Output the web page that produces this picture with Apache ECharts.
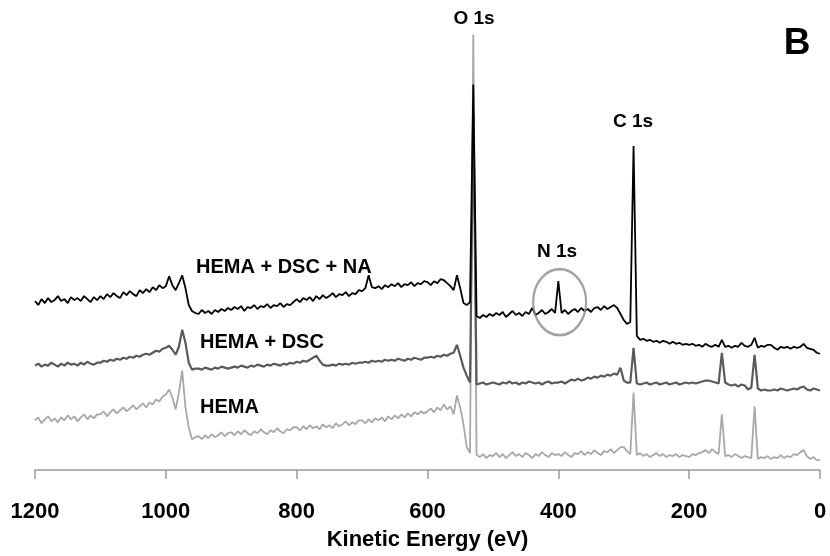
<!DOCTYPE html>
<html>
<head>
<meta charset="utf-8">
<script src="https://cdn.jsdelivr.net/npm/echarts@6/dist/echarts.min.js"></script>
<style>html,body{margin:0;padding:0;background:#fff}#chart{width:830px;height:556px}</style>
</head>
<body>
<div id="chart"></div>
<script>
// Kinetic energy grid (eV)
const energies = [
1200,1195,1190,1185,1180,1175,1170,1165,1160,1155,1150,1145,1140,1135,1130,1125,1120,1115,1110,1105,
1100,1095,1090,1085,1080,1075,1070,1065,1060,1055,1050,1045,1040,1035,1030,1025,1020,1015,1010,1005,
1000,995,990,985,980,975,970,965,960,955,950,945,940,935,930,925,920,915,910,905,
900,895,890,885,880,875,870,865,860,855,850,845,840,835,830,825,820,815,810,805,
800,795,790,785,780,775,770,765,760,755,750,745,740,735,730,725,720,715,710,705,
700,695,690,685,680,675,670,665,660,655,650,645,640,635,630,625,620,615,610,605,
600,595,590,585,580,575,570,565,560,555,550,545,540,535,530,525,520,515,510,505,
500,495,490,485,480,475,470,465,460,455,450,445,440,435,430,425,420,415,410,405,
400,395,390,385,380,375,370,365,360,355,350,345,340,335,330,325,320,315,310,305,
300,295,290,285,280,275,270,265,260,255,250,245,240,235,230,225,220,215,210,205,
200,195,190,185,180,175,170,165,160,155,150,145,140,135,130,125,120,115,110,105,
100,95,90,85,80,75,70,65,60,55,50,45,40,35,30,25,20,15,10,5,
0];

// Intensities (arbitrary units, offset spectra)
const hemaDscNa = [
170,166,172,168,173,169,171,175,170,172,168,174,171,173,170,175,172,169,174,171,
175,172,177,174,178,175,173,179,176,180,177,175,181,178,182,179,184,181,186,183,
185,195,186,181,188,196,183,166,160,158,157,161,158,160,157,161,159,162,160,163,
161,164,162,165,160,164,163,166,162,165,164,167,163,166,165,168,164,167,166,169,
172,169,173,171,174,170,175,172,176,173,175,178,174,177,176,179,175,178,177,181,
180,183,196,184,183,185,182,186,184,187,185,188,184,187,186,189,185,188,187,190,
189,186,190,188,192,191,188,185,181,196,183,168,166,169,388,155,153,156,154,157,
155,158,156,159,154,157,160,156,158,155,159,157,163,156,158,161,157,159,162,158,
190,158,161,157,160,162,159,163,160,162,159,163,164,161,165,162,164,166,163,157,
151,147,149,326,135,131,132,130,131,129,130,128,130,129,127,129,127,128,126,127,
126,127,125,126,124,127,125,124,126,124,131,124,125,123,125,124,128,125,124,126,
133,123,125,124,126,126,123,121,124,123,124,122,124,123,124,127,123,122,121,118,
117];

const hemaDsc = [
105,107,104,106,105,108,106,104,107,105,108,106,107,105,108,106,109,107,106,108,
108,110,109,111,110,112,111,113,112,114,113,115,114,116,117,116,118,120,119,122,
123,125,121,116,124,141,128,108,101,102,102,101,103,102,101,103,102,104,103,102,
103,104,103,105,104,103,105,104,106,105,104,106,105,107,106,105,107,106,108,107,
109,108,110,109,111,113,115,110,106,105,105,106,105,107,106,107,106,108,107,108,
108,109,108,110,109,110,109,111,110,111,110,112,111,110,112,111,113,112,111,113,
113,114,113,115,114,116,115,117,118,126,115,103,95,88,358,86,87,88,86,87,
88,87,86,88,87,89,87,88,86,88,87,89,88,87,88,86,88,89,87,88,
88,89,87,89,91,90,92,90,91,93,92,94,93,95,94,96,95,97,96,103,
90,88,88,123,87,86,87,88,86,87,88,86,87,88,86,87,88,86,87,88,
87,88,87,88,89,90,90,89,88,87,118,88,86,85,86,84,86,85,81,83,
116,82,80,81,80,80,81,80,82,81,80,81,82,81,83,84,81,80,82,81,
80];

const hema = [
50,53,47,51,54,49,52,48,53,50,55,51,54,49,53,56,51,55,52,56,
56,59,54,58,61,57,60,63,59,62,65,61,64,67,63,68,66,71,69,74,
76,81,73,61,78,100,63,43,31,33,34,31,35,32,36,33,35,38,34,37,
38,35,39,36,40,37,35,39,37,41,38,36,40,38,42,39,37,41,40,43,
43,40,44,41,45,42,44,41,46,43,45,42,47,44,46,49,45,48,46,50,
50,47,51,48,52,50,53,49,54,51,55,52,56,53,57,54,58,56,59,57,
59,62,58,63,60,66,61,64,56,75,63,46,23,17,438,15,13,16,12,15,
14,17,13,16,12,15,18,14,16,13,17,15,12,16,14,18,15,13,17,15,
16,14,18,15,13,17,16,19,15,18,16,20,17,15,19,18,21,17,20,23,
23,19,16,78,15,17,14,16,13,15,17,14,16,13,15,14,16,13,15,14,
13,16,15,17,18,20,17,21,18,16,56,14,15,13,16,14,12,14,13,12,
64,11,13,12,14,11,13,12,15,12,14,13,16,15,18,20,14,11,13,10,
10];

const seriesNames = ['HEMA', 'HEMA + DSC', 'HEMA + DSC + NA'];
const xTicks = [1200, 1000, 800, 600, 400, 200, 0];
const n1sMarker = [[398, 169]];

function pairs(vals) { return energies.map((e, i) => [e, vals[i]]); }

const chart = echarts.init(document.getElementById('chart'));
const FONT = '"Liberation Sans", Arial, sans-serif';

chart.setOption({
  animation: false,
  backgroundColor: '#ffffff',
  grid: { left: 35, right: 10, top: 0, bottom: 83 },
  xAxis: {
    type: 'value', inverse: true, min: 0, max: 1200, interval: 200,
    axisLine: { show: true, lineStyle: { color: '#9a9a9a', width: 1.5 } },
    axisTick: { show: true, inside: false, length: 9, lineStyle: { color: '#9a9a9a', width: 1.5 } },
    splitLine: { show: false },
    axisLabel: { margin: 31, color: '#000', fontSize: 22, fontWeight: 'bold', fontFamily: FONT,
      formatter: function (v) { return xTicks.indexOf(v) >= 0 ? String(v) : ''; } },
    name: 'Kinetic Energy (eV)', nameLocation: 'middle', nameGap: 59,
    nameTextStyle: { color: '#000', fontSize: 22, fontWeight: 'bold', fontFamily: FONT }
  },
  yAxis: { type: 'value', min: 0, max: 473, show: false },
  series: [
    { name: seriesNames[0], type: 'line', data: pairs(hema), showSymbol: false, symbol: 'none',
      lineStyle: { color: '#a8a8a8', width: 1.8 }, z: 2 },
    { name: seriesNames[1], type: 'line', data: pairs(hemaDsc), showSymbol: false, symbol: 'none',
      lineStyle: { color: '#5a5a5a', width: 2.2 }, z: 3 },
    { name: seriesNames[2], type: 'line', data: pairs(hemaDscNa), showSymbol: false, symbol: 'none',
      lineStyle: { color: '#000000', width: 1.8 }, z: 4 },
    { type: 'scatter', data: n1sMarker, symbol: 'circle', symbolSize: [53, 66],
      itemStyle: { color: 'rgba(0,0,0,0)', borderColor: '#8c8c8c', borderWidth: 2.5 }, z: 5, silent: true }
  ],
  graphic: [
    { type: 'text', x: 474, y: 19, style: { text: 'O 1s', font: 'bold 19px ' + FONT, fill: '#000', textAlign: 'center', textVerticalAlign: 'middle' } },
    { type: 'text', x: 633, y: 122, style: { text: 'C 1s', font: 'bold 19px ' + FONT, fill: '#000', textAlign: 'center', textVerticalAlign: 'middle' } },
    { type: 'text', x: 557, y: 252, style: { text: 'N 1s', font: 'bold 19px ' + FONT, fill: '#000', textAlign: 'center', textVerticalAlign: 'middle' } },
    { type: 'text', x: 797, y: 44, style: { text: 'B', font: 'bold 37px ' + FONT, fill: '#000', textAlign: 'center', textVerticalAlign: 'middle' } },
    { type: 'text', x: 196, y: 267, style: { text: 'HEMA + DSC + NA', font: 'bold 20px ' + FONT, fill: '#000', textAlign: 'left', textVerticalAlign: 'middle' } },
    { type: 'text', x: 200, y: 342, style: { text: 'HEMA + DSC', font: 'bold 20px ' + FONT, fill: '#000', textAlign: 'left', textVerticalAlign: 'middle' } },
    { type: 'text', x: 200, y: 407, style: { text: 'HEMA', font: 'bold 20px ' + FONT, fill: '#000', textAlign: 'left', textVerticalAlign: 'middle' } }
  ]
});
</script>
</body>
</html>
